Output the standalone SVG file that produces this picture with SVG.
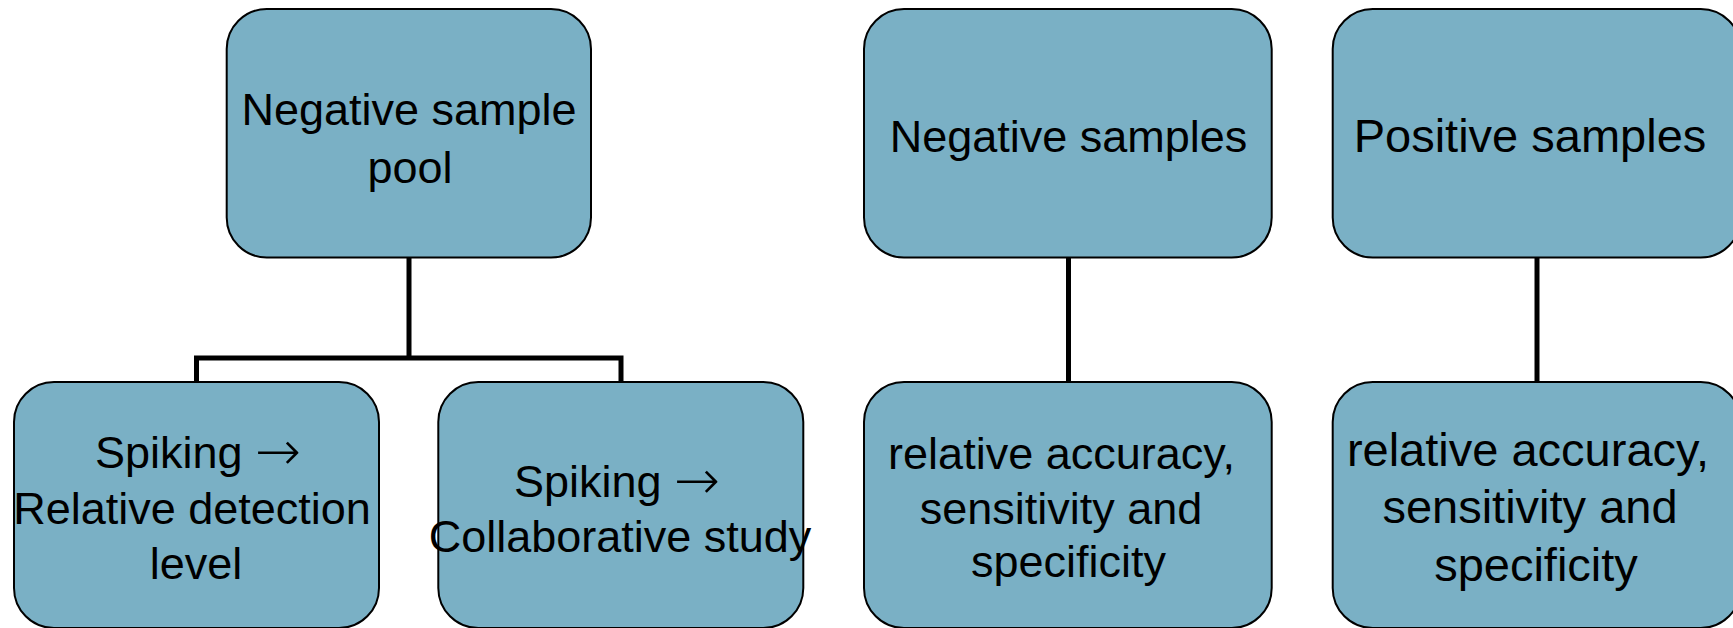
<svg xmlns="http://www.w3.org/2000/svg" width="1733" height="628" viewBox="0 0 1733 628">
<style>
.box{fill:#7AB0C5;stroke:#000;stroke-width:2}
.t{font-family:"Liberation Sans",Arial,sans-serif;fill:#000;text-anchor:middle}
.ar{font-family:"DejaVu Sans",sans-serif;font-weight:200;font-size:55px}
.c{fill:none;stroke:#000;stroke-width:5;stroke-linejoin:miter}
</style>
<rect width="1733" height="628" fill="#fff"/>
<g id="connectors">
<path class="c" d="M409,258 V358 M196.5,382 V358 H621 V382"/>
<path class="c" d="M1068.5,258 V382"/>
<path class="c" d="M1537,258 V382"/>
</g>
<g id="n-pool">
<rect class="box" x="226.7" y="9" width="364.3" height="248.5" rx="40" ry="40"/>
<text class="t" font-size="45"><tspan x="409" y="125">Negative sample</tspan><tspan x="410" y="183">pool</tspan></text>
</g>
<g id="n-negative">
<rect class="box" x="864" y="9" width="407.7" height="248.5" rx="40" ry="40"/>
<text class="t" font-size="45" x="1068.5" y="152">Negative samples</text>
</g>
<g id="n-positive">
<rect class="box" x="1332.7" y="9" width="408" height="248.5" rx="40" ry="40"/>
<text class="t" font-size="47" x="1530" y="152">Positive samples</text>
</g>
<g id="n-detection">
<rect class="box" x="14" y="382" width="365" height="246" rx="40" ry="40"/>
<text class="t" font-size="45"><tspan x="198" y="468">Spiking <tspan class="ar" dy="2">→</tspan></tspan><tspan x="192" y="524">Relative detection</tspan><tspan x="196" y="579">level</tspan></text>
</g>
<g id="n-collab">
<rect class="box" x="438.3" y="382" width="365" height="246" rx="40" ry="40"/>
<text class="t" font-size="45"><tspan x="617" y="497">Spiking <tspan class="ar" dy="2">→</tspan></tspan><tspan x="620" y="552">Collaborative study</tspan></text>
</g>
<g id="n-neg-acc">
<rect class="box" x="864" y="382" width="407.7" height="246" rx="40" ry="40"/>
<text class="t" font-size="45"><tspan x="1061.5" y="469">relative accuracy,</tspan><tspan x="1061" y="524">sensitivity and</tspan><tspan x="1068.5" y="577">specificity</tspan></text>
</g>
<g id="n-pos-acc">
<rect class="box" x="1332.7" y="382" width="408" height="246" rx="40" ry="40"/>
<text class="t" font-size="47"><tspan x="1528" y="466">relative accuracy,</tspan><tspan x="1530" y="523">sensitivity and</tspan><tspan x="1536" y="581">specificity</tspan></text>
</g>
</svg>
